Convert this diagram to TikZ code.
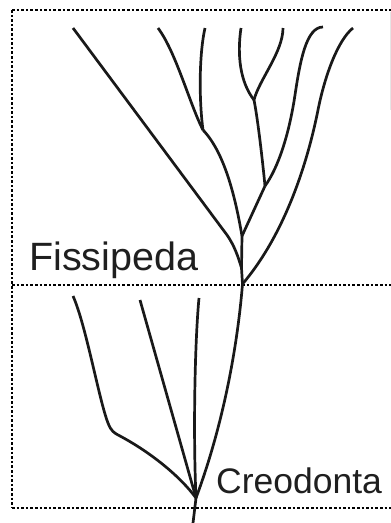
\documentclass[tikz,border=0pt]{standalone}
\usepackage{fontspec}
\setmainfont{Liberation Sans}
\begin{document}
\begin{tikzpicture}[x=1pt,y=-1pt,
  branch/.style={line width=2.7pt,line join=round,black!90},
  frame/.style={line width=2.6pt,dash pattern=on 2.5pt off 2.1pt,black},
  lab/.style={anchor=base west,inner sep=0pt,text=black!88}]
\useasboundingbox (0,0) rectangle (391,523);
% frame
\coordinate (fTL) at (12,10);
\coordinate (fTR) at (391,10);
\coordinate (fML) at (12,285);
\coordinate (fMR) at (391,285);
\coordinate (fBL) at (12,508);
\coordinate (fBR) at (391,508);
\draw[frame] (fTL) -- (fTR);
\draw[frame] (fTL) -- (fBL);
\draw[frame] (fML) -- (fMR);
\draw[frame] (fBL) -- (fBR);
\draw[gray!20,line width=0.8pt] (390.5,12) -- (390.5,110);
% tips
\coordinate (tA) at (73,28);
\coordinate (tB) at (158,28);
\coordinate (tC) at (205,28);
\coordinate (tD) at (241,28);
\coordinate (tE) at (283,28);
\coordinate (tF) at (323,27);
\coordinate (tG) at (353,28);
\coordinate (tH) at (73,296);
\coordinate (tI) at (140,300);
\coordinate (tJ) at (199,298);
% junctions
\coordinate (jBC) at (203,130);
\coordinate (jDE) at (254,100);
\coordinate (jDEF) at (265,186);
\coordinate (jX) at (242,236);
\coordinate (jA) at (241.5,268);
\coordinate (jG) at (242.5,284);
\coordinate (jR) at (196,498);
\coordinate (root) at (193,523);
% upper tree
\draw[branch] (tA) -- (227,235) .. controls (234,245) and (238,256) .. (jA);
\draw[branch] (tB) .. controls (176,52) and (190,105) .. (jBC);
\draw[branch] (tC) .. controls (199,55) and (199,100) .. (jBC);
\draw[branch] (jBC) .. controls (224,152) and (235,195) .. (jX);
\draw[branch] (tD) .. controls (237,55) and (240,82) .. (jDE);
\draw[branch] (tE) .. controls (283,52) and (259,80) .. (jDE);
\draw[branch] (jDE) .. controls (258,120) and (263,165) .. (jDEF);
\draw[branch] (tF) .. controls (306,27) and (300,62) .. (295,95)
                   .. controls (289,135) and (278,168) .. (jDEF);
\draw[branch] (jDEF) -- (jX);
\draw[branch] (tG) .. controls (338,40) and (325,75) .. (318,110)
                   .. controls (305,175) and (280,240) .. (jG);
\draw[branch] (jX) -- (jA) -- (jG);
% lower tree
\draw[branch] (jG) .. controls (238,340) and (225,420) .. (jR);
\draw[branch] (tH) .. controls (86,325) and (99,400) .. (108,423)
                   .. controls (111,431) and (114,433) .. (120,436)
                   .. controls (150,452) and (180,476) .. (jR);
\draw[branch] (tI) -- (jR);
\draw[branch] (tJ) .. controls (195,340) and (193,430) .. (jR);
\draw[branch] (jR) -- (root);
% labels
\node[lab,font=\fontsize{39.5}{41}\selectfont] (fis) at (29,270) {Fissipeda};
\node[lab,font=\fontsize{35.5}{37}\selectfont] (cre) at (216,493) {Creodonta};
\end{tikzpicture}
\end{document}
